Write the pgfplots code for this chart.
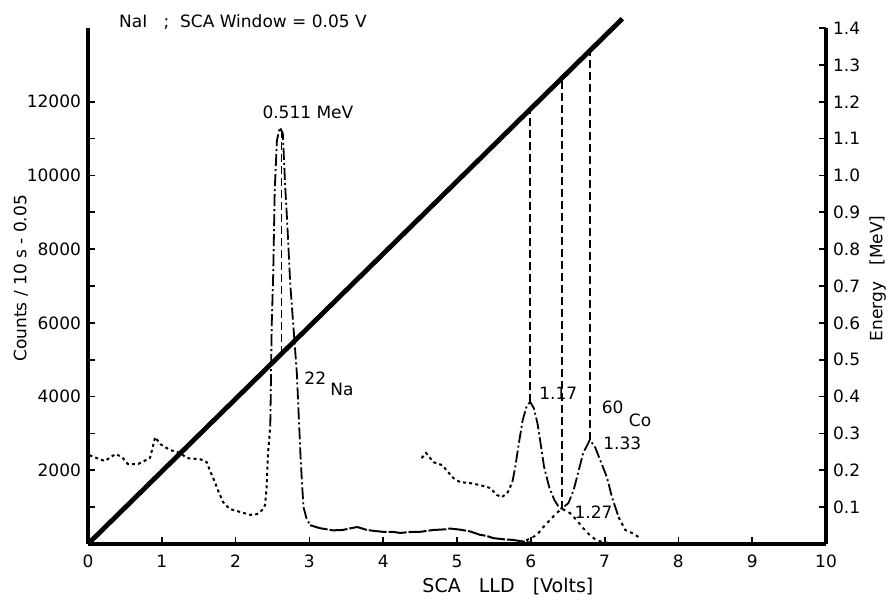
\documentclass[border=0pt]{standalone}
\usepackage{fontspec}
\setmainfont{DejaVu Sans}
\usepackage{pgfplots}
\pgfplotsset{compat=1.18}
\begin{document}
\begin{tikzpicture}
\pgfplotsset{
  common/.style={
    scale only axis, width=369pt, height=258pt,
    xmin=0, xmax=10, clip=false,
    axis line style={line width=1.8pt, -},
    tick align=inside,
    major tick length=3.5pt,
    tick style={line width=0.9pt, black},
    /pgf/number format/assume math mode=true,
    tick label style={font=\fontsize{8.5}{10}\selectfont},
    scaled y ticks=false,
  }
}
\begin{axis}[common,
  ymin=0, ymax=14000,
  axis x line*=bottom, axis y line*=left,
  xtick={0,1,2,3,4,5,6,7,8,9,10},
  ytick={2000,4000,6000,8000,10000,12000},
  extra y ticks={1000,3000,5000,7000,9000,11000},
  extra y tick labels={},
  extra y tick style={tick align=inside},
  yticklabel style={/pgf/number format/1000 sep={}},
  xticklabel style={yshift=-2pt},
  font=\fontsize{8.5}{10}\selectfont,
]
% energy calibration line (in count units: 1 MeV = 10000)
\addplot[black, line width=2.4pt] coordinates {(0,0) (7.24,14250)};
% vertical dashed projections
\addplot[black, line width=0.8pt, dash pattern=on 4pt off 2pt] coordinates {(2.62,5157) (2.62,11200)};
\addplot[black, line width=0.8pt, dash pattern=on 4pt off 2pt] coordinates {(5.99,3860) (5.99,11790)};
\addplot[black, line width=0.8pt, dash pattern=on 4pt off 2pt] coordinates {(6.42,960) (6.42,12636)};
\addplot[black, line width=0.8pt, dash pattern=on 4pt off 2pt] coordinates {(6.80,2820) (6.80,13384)};
% 22Na spectrum: low part (dotted)
\addplot[black, line width=1pt, dash pattern=on 1.5pt off 1.6pt] coordinates {
(0.02,2410) (0.12,2330) (0.23,2250) (0.30,2350) (0.375,2440) (0.46,2360) (0.54,2170)
(0.68,2170) (0.84,2330) (0.91,2900) (0.98,2710) (1.11,2550) (1.25,2470) (1.34,2330)
(1.52,2300) (1.61,2220) (1.65,2000) (1.72,1680) (1.76,1460) (1.83,1140) (1.92,950)
(2.06,870) (2.20,790) (2.29,810) (2.36,920) (2.40,1060) (2.42,1540) (2.44,2470) (2.47,3200)};
% 22Na 0.511 peak (dash dot)
\addplot[black, line width=0.9pt, dash pattern=on 6pt off 1.5pt on 1pt off 1.5pt] coordinates {
(2.47,3200) (2.49,5990) (2.51,7340) (2.53,9590) (2.56,10950) (2.60,11300) (2.64,11140)
(2.67,9780) (2.70,8700) (2.74,7070) (2.78,5990) (2.83,4630) (2.86,3280) (2.88,2360)
(2.90,1650) (2.92,1000) (2.96,700) (3.01,510)};
% 22Na continuum (nearly solid)
\addplot[black, line width=1pt, dash pattern=on 9pt off 1pt] coordinates {
(3.01,510) (3.14,430) (3.32,370) (3.45,380) (3.59,440) (3.65,460) (3.78,380) (3.90,350)
(4.00,330) (4.13,330) (4.23,300) (4.40,330) (4.50,330) (4.68,380) (4.86,400) (4.90,420)
(5.04,390) (5.18,340) (5.31,250) (5.40,220) (5.49,160) (5.62,130) (5.76,110) (5.95,50) (6.05,20)};
% 22Na 1.27 peak (dotted)
\addplot[black, line width=1pt, dash pattern=on 1.5pt off 2pt] coordinates {
(5.85,30) (5.94,100) (6.08,240) (6.17,460) (6.26,650) (6.35,840) (6.42,960) (6.53,840)
(6.62,650) (6.71,430) (6.80,240) (6.89,100) (6.98,50) (7.05,30)};
% 60Co spectrum: Compton part (dotted)
\addplot[black, line width=1pt, dash pattern=on 1.5pt off 1.6pt] coordinates {
(4.52,2330) (4.58,2470) (4.68,2220) (4.80,2140) (4.88,1950) (4.95,1790) (5.04,1680)
(5.18,1650) (5.31,1600) (5.45,1520) (5.54,1330) (5.61,1270) (5.69,1410) (5.75,1680)};
% 60Co peaks (dash dot)
\addplot[black, line width=0.9pt, dash pattern=on 6pt off 1.5pt on 1pt off 1.5pt] coordinates {
(5.75,1680) (5.79,2090) (5.83,2630) (5.89,3360) (5.94,3710) (5.99,3860) (6.04,3690)
(6.09,3280) (6.14,2630) (6.18,2090) (6.25,1540) (6.32,1190) (6.38,1000) (6.42,960)
(6.51,1110) (6.58,1460) (6.65,2000) (6.71,2470) (6.80,2820) (6.87,2630) (6.94,2280)
(7.03,1820) (7.10,1270) (7.19,730)};
\addplot[black, line width=1pt, dash pattern=on 1.5pt off 1.8pt] coordinates {
(7.19,730) (7.28,380) (7.37,300) (7.46,190)};
% annotations
\node at (axis cs:2.10,14170) {NaI\ \ \ ;\ \ SCA Window\ = 0.05 V};
\node at (axis cs:2.98,11707) {0.511\ MeV};
\node at (axis cs:3.08,4500) {22};
\node at (axis cs:3.44,4200) {Na};
\node[anchor=west] at (axis cs:6.02,4090) {1.17};
\node at (axis cs:7.11,3710) {60};
\node at (axis cs:7.48,3360) {Co};
\node at (axis cs:7.24,2740) {1.33};
\node at (axis cs:6.85,870) {1.27};
\node[rotate=90] at (axis cs:-0.91,7210) {Counts / 10 s - 0.05};
\node[rotate=90] at (axis cs:10.70,7210) {Energy\ \ \ [MeV]};
\node[font=\fontsize{9.5}{11}\selectfont] at (axis cs:5.69,-1150) {SCA\ \ \ LLD\ \ \ [Volts]};
\end{axis}
\begin{axis}[common,
  ymin=0, ymax=1.4,
  axis y line*=right, hide x axis,
  ytick={0.1,0.2,0.3,0.4,0.5,0.6,0.7,0.8,0.9,1.0,1.1,1.2,1.3,1.4},
  yticklabel style={/pgf/number format/.cd, fixed, fixed zerofill, precision=1},
]
\end{axis}
\pgfresetboundingbox
\path[use as bounding box] (-44pt,-29.5pt) rectangle (400.5pt,272pt);
\end{tikzpicture}
\end{document}
